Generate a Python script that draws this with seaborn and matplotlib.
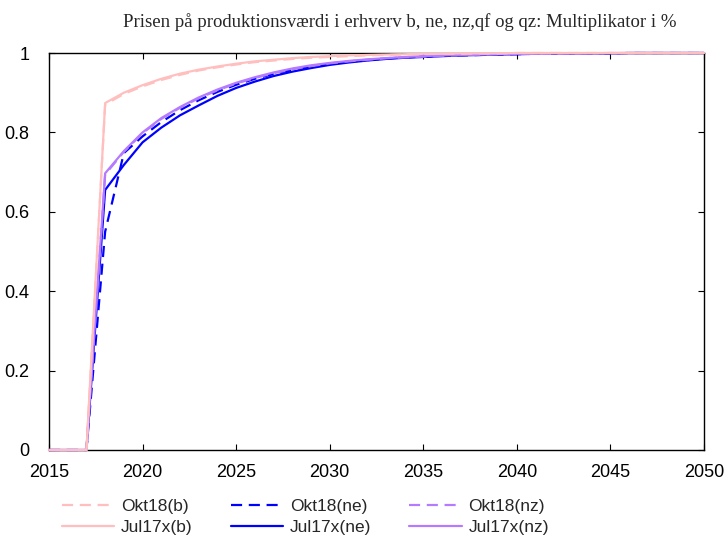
import numpy as np
import pandas as pd
import matplotlib
matplotlib.use("Agg")
import matplotlib.pyplot as plt
import seaborn as sns

years = list(range(2015, 2051))

b_okt = [0, 0, 0, 0.870, 0.897, 0.916, 0.932, 0.945, 0.956, 0.964, 0.971, 0.977, 0.981, 0.985, 0.988, 0.990,
         0.992, 0.994, 0.995, 0.996, 0.997, 0.998, 0.998, 0.999, 0.999,
         1.0, 1.0, 1.0, 1.0, 1.0, 1.0, 1.0, 1.0, 1.0, 1.0, 1.0]
b_jul = [0, 0, 0, 0.874, 0.900, 0.919, 0.935, 0.948, 0.958, 0.966, 0.973, 0.979, 0.983, 0.987, 0.990, 0.992,
         0.994, 0.995, 0.996, 0.997, 0.998, 0.998, 0.999, 0.999, 0.999,
         1.0, 1.0, 1.0, 1.0, 1.0, 1.0, 1.0, 1.0, 1.0, 1.0, 1.0]
ne_okt = [0, 0, 0, 0.550, 0.748, 0.790, 0.826, 0.856, 0.881, 0.902, 0.920, 0.935, 0.947, 0.957, 0.965, 0.972,
          0.978, 0.982, 0.986, 0.989, 0.991, 0.993, 0.994, 0.995, 0.996,
          0.997, 0.998, 0.998, 0.999, 0.999, 0.999, 1.0, 1.0, 1.0, 1.0, 1.0]
ne_jul = [0, 0, 0, 0.655, 0.718, 0.775, 0.812, 0.843, 0.868, 0.892, 0.912, 0.928, 0.942, 0.953, 0.962, 0.970,
          0.976, 0.981, 0.985, 0.988, 0.990, 0.992, 0.994, 0.995, 0.996,
          0.997, 0.998, 0.998, 0.999, 0.999, 0.999, 1.0, 1.0, 1.0, 1.0, 1.0]
nz_okt = [0, 0, 0, 0.694, 0.751, 0.798, 0.834, 0.862, 0.886, 0.906, 0.923, 0.937, 0.949, 0.959, 0.967, 0.974,
          0.979, 0.983, 0.987, 0.989, 0.991, 0.993, 0.995, 0.996, 0.997,
          0.997, 0.998, 0.998, 0.999, 0.999, 0.999, 1.0, 1.0, 1.0, 1.0, 1.0]
nz_jul = [0, 0, 0, 0.697, 0.753, 0.800, 0.836, 0.864, 0.888, 0.908, 0.925, 0.939, 0.951, 0.961, 0.969, 0.975,
          0.980, 0.984, 0.987, 0.990, 0.992, 0.994, 0.995, 0.996, 0.997,
          0.998, 0.998, 0.999, 0.999, 0.999, 1.0, 1.0, 1.0, 1.0, 1.0, 1.0]

labels = ["Okt18(b)", "Jul17x(b)", "Okt18(ne)", "Jul17x(ne)", "Okt18(nz)", "Jul17x(nz)"]
series = [b_okt, b_jul, ne_okt, ne_jul, nz_okt, nz_jul]
colors = ["#FFBFBF", "#FFBFBF", "#0000FF", "#0000FF", "#B57BFF", "#B57BFF"]
dashed = [True, False, True, False, True, False]

title = "Prisen på produktionsværdi i erhverv b, ne, nz,qf og qz: Multiplikator i %"

sns.set_theme(style="white")
plt.rcParams["font.family"] = ["Liberation Sans", "DejaVu Sans"]

fig = plt.figure(figsize=(7.27, 5.39), dpi=100)
ax = fig.add_axes([49 / 727, 89 / 539, (704 - 49) / 727, (450 - 53) / 539])

draw_order = [3, 2, 5, 4, 1, 0]
handles = {}
for i in draw_order:
    df = pd.DataFrame({"year": years, "value": series[i]})
    sns.lineplot(data=df, x="year", y="value", ax=ax, color=colors[i], linewidth=1.6,
                 linestyle=(0, (5, 3)) if dashed[i] else "-", label=labels[i], legend=False,
                 clip_on=False, zorder=3)
    handles[i] = ax.lines[-1]

ax.set_xlim(2015, 2050)
ax.set_ylim(0, 1)
ax.set_xticks([2015, 2020, 2025, 2030, 2035, 2040, 2045, 2050])
ax.set_yticks([0, 0.2, 0.4, 0.6, 0.8, 1])
ax.set_yticklabels(["0", "0.2", "0.4", "0.6", "0.8", "1"])
ax.set_xlabel("")
ax.set_ylabel("")
for s in ax.spines.values():
    s.set_visible(True)
    s.set_color("black")
    s.set_linewidth(1.0)
ax.tick_params(direction="in", length=4, width=0.8, colors="black", labelsize=13,
               top=True, right=True, bottom=True, left=True, pad=10)
ax.tick_params(axis="y", pad=14)
ax.grid(False)

fig.text(400 / 727, 1 - 22 / 539, title, ha="center", va="center",
         family=["Liberation Serif", "DejaVu Serif"], fontsize=13.5)

fig.legend([handles[i] for i in range(6)], labels, ncol=3, loc="upper left",
           bbox_to_anchor=(62 / 727, 1 - 499 / 539), frameon=False, fontsize=12.5,
           handlelength=3.0, handletextpad=0.4, columnspacing=2.2, labelspacing=0.35,
           borderaxespad=0, borderpad=0)

fig.savefig("out.png", dpi=100)
